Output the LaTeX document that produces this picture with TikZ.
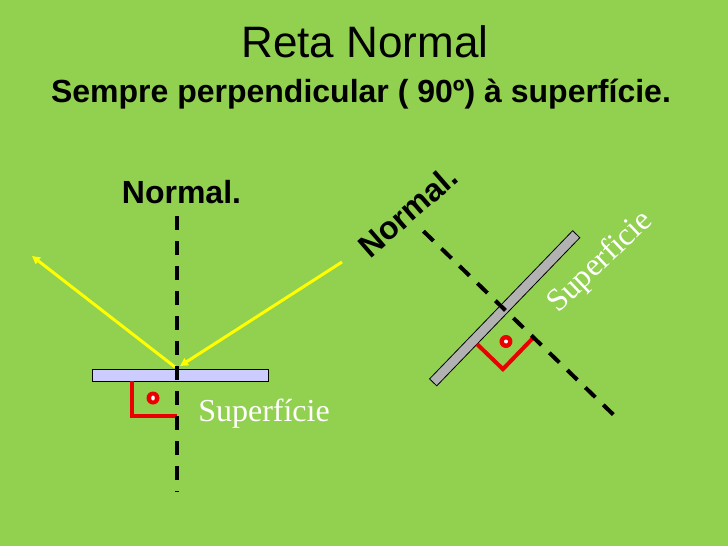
\documentclass[tikz,border=0pt]{standalone}
\usepackage{fontspec}
\setmainfont{Liberation Sans}
\newfontfamily\serifface{Liberation Serif}
\usetikzlibrary{arrows.meta}
\definecolor{bg}{RGB}{146,208,80}
\definecolor{barblue}{RGB}{204,204,255}
\definecolor{bargray}{RGB}{178,178,178}
\definecolor{markred}{RGB}{235,0,0}
\definecolor{raycol}{RGB}{255,255,0}
\tikzset{
  normalline/.style={line width=4pt, dash pattern=on 14pt off 11pt, black},
  markline/.style={line width=4pt, markred},
  rayline/.style={line width=3pt, raycol, -{Triangle[length=8pt,width=8pt]}},
  surfbar/.style={draw=black, line width=0.8pt, inner sep=0pt, minimum height=#1},
  boldlbl/.style={font=\bfseries\fontsize{32}{38}\selectfont, anchor=base, inner sep=0pt},
  seriflbl/.style={font=\serifface\fontsize{32}{38}\selectfont, text=white, anchor=base, inner sep=0pt},
}
\begin{document}
\begin{tikzpicture}[x=1pt,y=-1pt]
\fill[bg] (0,0) rectangle (728,546);
\useasboundingbox (0,0) rectangle (728,546);

% titles
\node[font=\fontsize{44}{50}\selectfont, anchor=base, inner sep=0pt] (title) at (365,57) {Reta Normal};
\node[boldlbl] (subtitle) at (361,102) {Sempre perpendicular ( 90º) à superfície.};

% ---------- left figure ----------
\coordinate (rayIn) at (342,262);
\coordinate (hitIn) at (180,366);
\coordinate (hitOut) at (175,367);
\coordinate (rayOut) at (32,256);
\draw[rayline] (rayIn) -- (hitIn);
\draw[rayline] (hitOut) -- (rayOut);

\begin{scope}[shift={(177,375)}]
  \node[boldlbl] (normalL) at (4.5,-172) {Normal.};
  \coordinate (topL) at (0,-159);
  \coordinate (botL) at (0,117);
  \node[surfbar=12pt, fill=barblue, minimum width=176pt] (barL) at (3,0) {};
  \coordinate (m1L) at (-45,6);
  \coordinate (m2L) at (-45,41);
  \coordinate (m3L) at (0,41);
  \draw[markline] (m1L) -- (m2L) -- (m3L);
  \fill[markred] (-24,23) circle (6.5pt);
  \fill[white] (-24,23) ellipse (1.8pt and 2.5pt);
  \draw[normalline] (topL) -- (botL);
\end{scope}
\node[seriflbl] (surfL) at (264,421) {Superfície};

% ---------- right figure ----------
\begin{scope}[shift={(504,309)}, rotate=46]
  \coordinate (topR) at (0,-112);
  \coordinate (botR) at (0,162);
  \node[surfbar=10pt, fill=bargray, minimum width=206pt, rotate=46] (barR) at (1,0) {};
  \coordinate (m1R) at (-44,5);
  \coordinate (m2R) at (-44,41);
  \coordinate (m3R) at (0,41);
  \draw[markline] (m1R) -- (m2R) -- (m3R);
  \fill[markred] (-22,24) circle (6.5pt);
  \fill[white] (-22,24) circle (2pt);
  \draw[normalline] (topR) -- (botR);
\end{scope}
\node[boldlbl, rotate=41] (normalR) at (415,220) {Normal.};
\node[seriflbl, rotate=43.5] (surfR) at (606,268) {Superficie};
\end{tikzpicture}
\end{document}
